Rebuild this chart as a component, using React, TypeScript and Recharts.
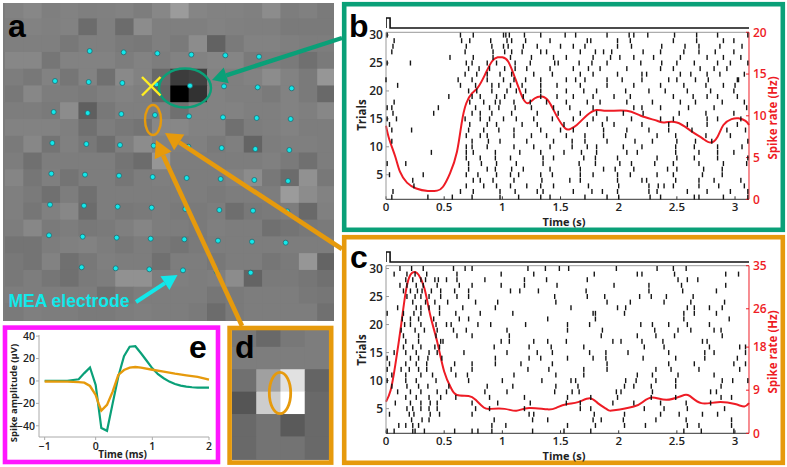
import { ComposedChart, LineChart, ScatterChart, Scatter, Line, XAxis, YAxis, ReferenceLine } from 'recharts';

const tickFont = "'Open Sans', sans-serif";
const green = '#0aa078';
const orange = '#e69a0c';
const magenta = '#ff16ff';
const red = '#ee1c25';

// panel a: gray level of each map cell, row by row
const mapGrays: number[][] = [
  [130, 135, 127, 130, 127, 128, 130, 125, 135, 155, 133, 130, 130, 128, 140, 125, 128, 122],
  [127, 130, 128, 130, 108, 127, 108, 140, 127, 127, 127, 130, 128, 127, 127, 122, 122, 122],
  [127, 127, 127, 120, 127, 127, 122, 120, 127, 122, 140, 98, 122, 130, 130, 127, 125, 125],
  [135, 135, 118, 130, 130, 130, 125, 130, 125, 130, 130, 133, 133, 122, 125, 122, 112, 122],
  [125, 120, 130, 118, 130, 112, 137, 130, 105, 60, 65, 130, 127, 130, 140, 130, 122, 150],
  [120, 135, 125, 125, 122, 127, 130, 127, 100, 0, 50, 130, 127, 127, 122, 130, 122, 105],
  [125, 125, 122, 140, 95, 120, 127, 127, 127, 112, 130, 130, 130, 127, 127, 130, 127, 135],
  [130, 130, 130, 127, 112, 125, 120, 116, 135, 135, 130, 130, 112, 125, 127, 130, 125, 125],
  [122, 135, 116, 128, 120, 110, 127, 140, 130, 127, 128, 122, 127, 100, 125, 127, 127, 125],
  [125, 112, 125, 125, 125, 125, 116, 108, 150, 125, 125, 125, 125, 125, 128, 122, 112, 125],
  [133, 118, 127, 116, 125, 125, 118, 125, 127, 125, 125, 125, 130, 140, 120, 108, 145, 120],
  [127, 122, 112, 125, 112, 125, 125, 125, 125, 125, 125, 122, 125, 125, 125, 155, 140, 130],
  [127, 118, 128, 135, 108, 125, 120, 122, 125, 122, 122, 125, 110, 120, 122, 125, 105, 128],
  [125, 135, 122, 125, 120, 122, 127, 133, 125, 125, 122, 127, 125, 125, 112, 116, 120, 122],
  [116, 116, 125, 128, 130, 125, 120, 125, 120, 116, 122, 125, 125, 125, 125, 125, 125, 125],
  [120, 116, 130, 112, 120, 127, 125, 125, 112, 125, 125, 120, 125, 125, 118, 122, 150, 100],
  [120, 125, 118, 112, 122, 125, 145, 145, 125, 127, 125, 127, 140, 100, 122, 122, 118, 112],
  [125, 125, 125, 125, 125, 112, 120, 125, 125, 125, 125, 118, 122, 125, 125, 125, 120, 118],
  [122, 127, 125, 125, 122, 122, 125, 127, 125, 125, 122, 108, 122, 125, 125, 125, 125, 112],
];

const electrodeX = [
  269, 371, 472, 574, 676, 777,
  165, 266, 367, 469, 570, 672, 773, 875,
  161, 263, 364, 465, 567, 669, 770, 872,
  157, 259, 360, 461, 565, 665, 766, 868,
  154, 255, 357, 458, 560, 662, 763, 864,
  150, 252, 353, 455, 556, 658, 759, 862,
  147, 248, 350, 452, 553, 654, 756, 857,
  245, 347, 448, 549, 650, 752,
];
const electrodeY = [
  153, 157, 160, 164, 166, 170,
  243, 246, 249, 253, 257, 259, 262, 265,
  336, 339, 342, 345, 349, 352, 354, 357,
  429, 432, 435, 437, 440, 444, 447, 450,
  521, 524, 527, 531, 534, 537, 540, 543,
  614, 617, 620, 623, 627, 630, 632, 634,
  706, 710, 713, 716, 718, 722, 725, 728,
  802, 805, 808, 811, 815, 818,
];

// panel d: gray level of each cell
const zoomGrays: number[][] = [
  [120, 105, 120, 125],
  [125, 125, 125, 125],
  [112, 160, 225, 100],
  [85, 205, 255, 105],
  [105, 115, 90, 105],
  [105, 115, 115, 105],
];

// panel b: spike times (s), index 0 is trial 1
const spikesB: number[][] = [
  [.05, .36, .57, .74, .98, 1.14, 1.33, 1.41, 1.71, 1.9, 2, 2.27, 2.36, 2.65, 2.69, 2.9, 3.11],
  [.06, .64, .75, .98, 1.11, 1.3, 1.35, 1.61, 1.77, 1.86, 1.99, 2.26, 2.33, 2.59, 2.76, 2.96, 3.11],
  [.24, .69, .84, .95, 1.07, 1.21, 1.33, 1.44, 1.74, 2, 2.26, 2.34, 2.39, 2.47, 2.69, 2.86, 3.08],
  [.23, .75, .81, .92, 1.1, 1.34, 1.58, 1.67, 1.99, 2.2, 2.24, 2.49, 2.69, 2.82, 3.05],
  [.03, .32, .69, .79, .95, 1.07, 1.14, 1.33, 1.43, 1.67, 1.78, 1.99, 2.1, 2.33, 2.47, 2.72, 2.89],
  [.71, .87, .94, 1.08, 1.18, 1.41, 1.67, 1.87, 1.97, 2.13, 2.42, 2.5, 2.73, 2.89],
  [.01, .17, .71, .82, .95, 1.12, 1.35, 1.66, 1.8, 2.01, 2.11, 2.31, 2.47, 2.69, 2.9, 3.1],
  [.69, .81, .94, 1.07, 1.35, 1.44, 1.7, 1.8, 1.99, 2.33, 2.5, 2.65, 2.85, 3.11],
  [.39, .69, .75, .94, 1.15, 1.33, 1.53, 1.68, 1.81, 2.07, 2.16, 2.49, 2.69, 2.85, 2.99],
  [.69, .74, .87, 1.1, 1.27, 1.41, 1.6, 1.73, 1.81, 2.04, 2.2, 2.49, 2.65, 2.85, 3.06],
  [.05, .74, .88, .98, 1.21, 1.44, 1.6, 1.71, 1.9, 2.14, 2.29, 2.5, 2.66, 2.8, 3.11],
  [.69, .81, .87, 1.1, 1.25, 1.38, 1.55, 1.71, 1.87, 2.06, 2.33, 2.49, 2.75, 2.96],
  [.05, .22, .71, .84, .97, 1.1, 1.33, 1.5, 1.61, 1.87, 2.07, 2.26, 2.43, 2.63, 2.93, 3.09],
  [.03, .72, .87, .95, 1.17, 1.3, 1.53, 1.73, 1.86, 1.96, 2.2, 2.43, 2.59, 2.76, 3.02],
  [.01, .09, .68, .81, .89, 1.01, 1.12, 1.27, 1.43, 1.61, 1.78, 1.9, 2.11, 2.36, 2.47, 2.76, 2.85, 3.05],
  [.06, .41, .74, .81, .91, 1.08, 1.3, 1.48, 1.67, 1.81, 2.04, 2.21, 2.52, 2.75, 2.99],
  [.01, .05, .45, .77, .89, .97, 1.11, 1.25, 1.44, 1.58, 1.78, 2.13, 2.2, 2.36, 2.6, 2.82, 3.1],
  [.07, .72, .84, .94, .98, 1.1, 1.24, 1.38, 1.55, 1.73, 1.84, 2.07, 2.29, 2.53, 2.66, 2.89, 3.08],
  [.54, .74, .81, .95, 1.02, 1.18, 1.33, 1.47, 1.61, 1.78, 1.96, 2.1, 2.47, 2.64, 2.76, 2.85, 3.02],
  [.71, .78, .91, 1.04, 1.12, 1.2, 1.33, 1.55, 1.7, 1.81, 2.06, 2.26, 2.4, 2.59, 2.79, 2.99],
  [.1, .64, .77, .91, .97, 1.07, 1.17, 1.33, 1.47, 1.67, 1.9, 2.13, 2.36, 2.56, 2.75, 2.9, 3],
  [0, .62, .74, .87, 1.01, 1.1, 1.2, 1.33, 1.55, 1.63, 1.71, 1.9, 2.03, 2.2, 2.43, 2.5, 2.66, 2.77, 3.02, 3.03],
  [.68, .78, .87, .98, 1.08, 1.27, 1.43, 1.67, 1.78, 1.99, 2.2, 2.24, 2.53, 2.62, 2.76, 2.87, 3.08],
  [.71, .8, .89, 1.02, 1.11, 1.21, 1.41, 1.61, 1.74, 1.84, 2.07, 2.36, 2.47, 2.7, 2.82, 2.93],
  [.01, .21, .69, .74, .87, .95, 1.11, 1.24, 1.45, 1.48, 1.66, 1.77, 1.9, 2.19, 2.37, 2.5, 2.65, 2.85, 2.96, 3.11],
  [.55, .75, .92, 1.07, 1.25, 1.44, 1.55, 1.78, 1.93, 2.01, 2.13, 2.3, 2.53, 2.76, 2.9, 3.05],
  [.05, .68, .92, 1.02, 1.08, 1.17, 1.33, 1.38, 1.67, 1.8, 1.87, 1.94, 2.21, 2.36, 2.56, 2.69, 2.83, 2.99],
  [.06, .69, .91, 1.01, 1.05, 1.18, 1.3, 1.5, 1.61, 1.71, 1.99, 2.11, 2.37, 2.57, 2.69, 2.87, 3.06],
  [.07, .65, .72, .9, 1.04, 1.08, 1.2, 1.41, 1.73, 1.76, 1.99, 2.1, 2.47, 2.67, 2.9, 2.99],
  [.01, .64, .75, 1.01, 1.03, 1.06, 1.19, 1.33, 1.54, 1.63, 1.9, 2.09, 2.13, 2.25, 2.48, 2.67, 2.85, 3.11],
];

const rateTimeB = [0, .03, .08, .12, .18, .26, .36, .44, .49, .55, .61, .65, .69, .74, .79, .85, .91, .96, 1, 1.05, 1.11, 1.17, 1.22, 1.28, 1.34, 1.4, 1.47, 1.54, 1.58, 1.64, 1.73, 1.81, 1.9, 2.07, 2.19, 2.33, 2.39, 2.5, 2.62, 2.72, 2.79, 2.85, 2.9, 2.97, 3.03, 3.09, 3.12];
const rateB = [8.8, 7.1, 5.1, 3.3, 2, 1.3, 1, 1.04, 1.5, 3.1, 5.7, 9.1, 11.5, 12.7, 13.4, 14.9, 16.5, 17, 17, 16.5, 14.5, 12.3, 11.5, 12.1, 12.3, 11.7, 9.9, 8.5, 8.4, 8.9, 10.1, 10.7, 10.6, 10.6, 10, 9.4, 9.2, 9.2, 8.2, 7.3, 6.8, 7.5, 8.9, 9.6, 9.7, 9.4, 8.9];

// panel c: spike times (s), index 0 is trial 1
const spikesC: number[][] = [
  [.01, .07, .23, .25, .33, .59, .74, .79, .91, 1.26, 1.53, 1.76, 2.56, 2.71, 2.99],
  [.11, .17, .23, .28, .91, 1.03, 1.56, 1.8, 2.05, 2.23, 2.59, 2.69, 2.97],
  [.22, .31, .37, .93, 1.26, 1.39, 1.78, 1.85, 2.04, 2.32, 2.58, 2.97],
  [.03, .2, .24, .38, .46, .74, 1.23, 1.27, 1.79, 2.05, 2.36, 2.52, 2.72, 2.85],
  [.18, .23, .3, .37, .44, .77, .89, 1.19, 1.67, 1.76, 2.22, 2.39, 2.59, 2.91],
  [.08, .21, .3, .38, .44, .74, .96, 1.24, 1.55, 1.67, 1.95, 2.13, 2.36, 2.58, 2.79],
  [.17, .26, .37, .47, .6, .89, 1.19, 1.56, 1.76, 1.99, 2.28, 2.49, 2.88, 2.97],
  [.1, .21, .3, .44, .52, .85, 1.04, 1.45, 1.6, 1.66, 1.98, 2.02, 2.29, 2.79, 2.84],
  [.05, .18, .28, .36, .54, .87, 1.09, 1.46, 1.65, 2.05, 2.13, 2.28, 2.49, 2.88],
  [.01, .17, .26, .43, .71, 1, 1.34, 1.59, 1.63, 2.06, 2.15, 2.32, 2.49, 2.89, 2.98, 3.11],
  [.05, .17, .3, .4, .6, .7, 1.1, 1.46, 1.7, 2.16, 2.29, 2.51, 2.82],
  [.01, .13, .2, .28, .35, .56, .74, 1.22, 1.4, 1.7, 1.9, 2.32, 2.45, 2.69, 3.04],
  [.03, .17, .26, .35, .59, .74, .94, 1.16, 1.43, 1.9, 2.43, 2.65, 2.99, 3.09],
  [.01, .21, .28, .36, .48, .94, 1.23, 1.33, 1.56, 1.78, 1.89, 2.21, 2.49, 2.74, 3.02],
  [.07, .17, .26, .37, .44, .67, 1.04, 1.3, 1.43, 1.75, 1.89, 2.08, 2.43, 2.74, 2.82, 3.09],
  [.15, .23, .3, .42, .46, .93, 1.23, 1.42, 1.7, 2.22, 2.39, 2.78, 3.04, 3.09],
  [.17, .28, .47, .49, .99, 1.06, 1.27, 1.39, 1.55, 1.95, 2.02, 2.2, 2.38, 2.72, 2.76],
  [.15, .28, .43, .61, .74, 1.06, 1.85, 2.16, 2.32, 2.48, 2.89],
  [.13, .25, .33, .44, .58, .69, 1.04, 1.56, 1.86, 2.31, 2.51, 2.62, 2.82, 2.88],
  [.16, .21, .3, .43, .52, .56, .79, .9, 1.2, 1.56, 1.75, 2.19, 2.29, 2.43, 2.59, 2.78],
  [.14, .21, .28, .41, .63, .71, 1.39, 1.8, 2.56, 2.95],
  [.01, .15, .24, .3, .46, .6, .81, 1.09, 1.78, 1.8, 2.05, 2.56, 2.65, 2.84],
  [.1, .26, .3, .37, .46, .66, .94, 1.59, 1.99, 2.06, 2.59, 2.65, 2.78, 2.89],
  [.23, .34, .42, .53, .77, .96, 1.46, 1.9, 2.1, 2.39, 2.62, 2.91],
  [.18, .25, .3, .37, .47, .61, .71, 1.45, 1.73, 1.88, 2.18, 2.28, 2.41, 2.64],
  [.15, .21, .27, .31, .39, .47, .59, .71, 1.07, 1.15, 1.31, 1.72, 2.26, 2.55, 2.84],
  [.12, .18, .26, .32, .44, .63, .74, .99, 1.19, 1.47, 1.96, 2.26, 2.54, 2.92],
  [.17, .23, .3, .34, .42, .45, .52, .61, .85, 1.19, 1.38, 1.73, 2.51, 2.59, 2.68],
  [.07, .18, .25, .35, .61, .99, 1.27, 1.79, 2.16, 2.2, 2.48, 2.92, 3.03],
  [.12, .22, .32, .58, .68, .74, 1.22, 1.37, 1.49, 1.57, 1.98, 2.33, 2.47, 2.58],
];

const rateTimeC = [0, .04, .08, .13, .17, .21, .25, .28, .33, .38, .44, .5, .56, .61, .71, .77, .84, .9, 1.02, 1.12, 1.23, 1.39, 1.47, 1.56, 1.65, 1.75, 1.82, 1.9, 1.96, 2.13, 2.21, 2.29, 2.41, 2.54, 2.61, 2.71, 2.85, 3, 3.08, 3.12];
const rateC = [6.6, 9, 14.3, 22.6, 29.6, 33.1, 33.7, 33.1, 30.3, 24.7, 19.1, 12.9, 9.4, 8, 7.8, 7, 5.4, 5.1, 5.1, 4.7, 5.3, 5, 5.4, 6.1, 6.5, 7.3, 6.3, 5, 4.8, 5.6, 6.6, 7.5, 7, 7.8, 7.8, 6.3, 6.5, 6.1, 5.6, 6.3];

// panel e: spike waveforms
const waveTimeGreen = [-.9, -.5, -.3, -.2, -.1, 0, .1, .2, .3, .4, .5, .6, .7, .8, .9, 1, 1.1, 1.2, 1.3, 1.4, 1.5, 1.6, 1.7, 1.8, 2];
const waveGreen = [0, .2, 1.5, 7, 12, -3.5, -42, -44.5, -20, 4, 22, 30.5, 31, 24.7, 18, 11.3, 6, 2.4, -.6, -2.7, -4.2, -5, -5.6, -6, -6];
const waveTimeOrange = [-.9, -.5, -.3, -.2, -.1, 0, .05, .1, .2, .3, .4, .5, .6, .7, .8, 1, 1.2, 1.4, 1.6, 1.8, 2];
const waveOrange = [-.5, -.6, -1, -1.5, -4.5, -12.5, -20, -26.5, -21.4, -9.5, 5.4, 9.8, 11.9, 12.5, 11.9, 10, 8.3, 6.5, 5, 3.6, 1.2];

const stimTime = [0, 0, .035, .035, 3.12];
const stimLevel = [0, 1, 1, 0, 0];

const trialTicks = [5, 10, 15, 20, 25, 30];
const timeTicks = [0, 0.5, 1, 1.5, 2, 2.5, 3];

const CellShape = (w: number, h: number) => (p: any) => (
  <rect x={p.cx - w / 2} y={p.cy - h / 2} width={w + 0.5} height={h + 0.5} fill={`rgb(${p.payload.g},${p.payload.g},${p.payload.g})`} />
);
const ElectrodeDot = (p: any) => <circle cx={p.cx} cy={p.cy} r={2.5} fill="#12e8ea" stroke="#27686e" strokeWidth={0.8} />;
const SpikeTick = (p: any) => <rect x={p.cx - 0.7} y={p.cy - 2.5} width={1.4} height={5} fill="#151515" />;

const MapPanel = () => {
  const cells = mapGrays.flatMap((row, r) => row.map((g, c) => ({ x: 15 + 55.1 * (c + 0.5), y: 5 + 50.3 * (r + 0.5), g })));
  const dots = electrodeX.map((x, i) => ({ x, y: electrodeY[i] }));
  return (
    <div style={{ position: 'absolute', left: 3, top: 3, background: '#7c7c7c' }}>
      <ScatterChart width={331} height={318} margin={{ top: 0, right: 0, bottom: 0, left: 0 }}>
        <XAxis type="number" dataKey="x" domain={[9, 1002]} hide />
        <YAxis type="number" dataKey="y" domain={[9, 963]} reversed hide />
        <Scatter data={cells} shape={CellShape(18.4, 16.8)} isAnimationActive={false} />
        <Scatter data={dots} shape={ElectrodeDot} isAnimationActive={false} />
      </ScatterChart>
    </div>
  );
};

const ZoomPanel = () => {
  const cells = zoomGrays.flatMap((row, r) => row.map((g, c) => ({ x: c + 0.5, y: r + 0.25, g })));
  return (
    <div style={{ position: 'absolute', left: 232, top: 330, background: '#777' }}>
      <ScatterChart width={97} height={130} margin={{ top: 0, right: 0, bottom: 0, left: 0 }}>
        <XAxis type="number" dataKey="x" domain={[0, 4]} hide />
        <YAxis type="number" dataKey="y" domain={[0, 5.8]} reversed hide />
        <Scatter data={cells} shape={CellShape(24.3, 22.4)} isAnimationActive={false} />
      </ScatterChart>
    </div>
  );
};

type RasterProps = {
  left: number;
  top: number;
  spikes: number[][];
  rateTime: number[];
  rate: number[];
  rateMax: number;
  rateTicks: number[];
  plotTop: number;
  plotHeight: number;
};

const RasterPanel = ({ left, top, spikes, rateTime, rate, rateMax, rateTicks, plotTop, plotHeight }: RasterProps) => {
  const points = spikes.flatMap((times, i) => times.map((t) => ({ t, trial: i + 1 })));
  const curve = rateTime.map((t, i) => ({ t, rate: rate[i] }));
  const stim = stimTime.map((t, i) => ({ t, level: stimLevel[i] }));
  return (
    <>
      <div style={{ position: 'absolute', left: left + 40, top: plotTop - 16 }}>
        <LineChart width={363} height={14} data={stim} margin={{ top: 2, right: 0, bottom: 2, left: 0 }}>
          <XAxis type="number" dataKey="t" domain={[0, 3.12]} hide />
          <YAxis type="number" domain={[0, 1]} hide />
          <Line dataKey="level" type="linear" stroke="#111" strokeWidth={1.6} dot={false} isAnimationActive={false} />
        </LineChart>
      </div>
      <div style={{ position: 'absolute', left, top }}>
        <ComposedChart width={434} height={plotTop - top + plotHeight + 27} margin={{ top: plotTop - top, right: 0, bottom: 0, left: 0 }}>
          <XAxis
            type="number"
            dataKey="t"
            domain={[0, 3.12]}
            ticks={timeTicks}
            height={27}
            stroke="#333"
            tickSize={-3}
            tickMargin={7}
            interval={0}
            tick={{ fill: '#222', fontSize: 11.5, fontWeight: 600, fontFamily: tickFont }}
          />
          <YAxis
            yAxisId="trials"
            type="number"
            dataKey="trial"
            domain={[0.6, 30.5]}
            ticks={trialTicks}
            width={40}
            stroke="#999"
            tickSize={-3}
            tickMargin={6}
            interval={0}
            tick={{ fill: '#222', fontSize: 12, fontWeight: 600, fontFamily: tickFont }}
          />
          <YAxis
            yAxisId="rate"
            orientation="right"
            type="number"
            domain={[0, rateMax]}
            ticks={rateTicks}
            width={31}
            stroke={red}
            tickSize={-3}
            tickMargin={7}
            interval={0}
            tick={{ fill: red, fontSize: 12, fontWeight: 600, fontFamily: tickFont }}
          />
          <ReferenceLine yAxisId="rate" y={rateMax} stroke="#999" />
          <Scatter yAxisId="trials" data={points} shape={SpikeTick} isAnimationActive={false} />
          <Line yAxisId="rate" data={curve} dataKey="rate" type="natural" stroke={red} strokeWidth={2} dot={false} isAnimationActive={false} />
        </ComposedChart>
      </div>
    </>
  );
};

const WavePanel = () => {
  const greenData = waveTimeGreen.map((t, i) => ({ t, v: waveGreen[i] }));
  const orangeData = waveTimeOrange.map((t, i) => ({ t, v: waveOrange[i] }));
  return (
    <div style={{ position: 'absolute', left: 7, top: 330 }}>
      <LineChart width={210} height={130} margin={{ top: 5, right: 8, bottom: 0, left: 0 }}>
        <XAxis
          type="number"
          dataKey="t"
          domain={[-1, 2]}
          ticks={[-0.9, 0, 1, 2]}
          tickFormatter={(v: number) => (v < 0 ? '\u22121' : String(v))}
          height={23}
          stroke="#aaa"
          tickSize={3}
          tickMargin={3}
          interval={0}
          tick={{ fill: '#222', fontSize: 10.5, fontWeight: 600, fontFamily: tickFont }}
        />
        <YAxis
          type="number"
          domain={[-50, 41]}
          ticks={[-40, -20, 0, 20, 40]}
          tickFormatter={(v: number) => String(v).replace('-', '\u2212')}
          width={32}
          stroke="#aaa"
          tickSize={3}
          tickMargin={1}
          interval={0}
          tick={{ fill: '#222', fontSize: 10.5, fontWeight: 600, fontFamily: tickFont }}
        />
        <Line data={greenData} dataKey="v" type="linear" stroke={green} strokeWidth={2.2} dot={false} isAnimationActive={false} />
        <Line data={orangeData} dataKey="v" type="linear" stroke={orange} strokeWidth={2.4} dot={false} isAnimationActive={false} />
      </LineChart>
    </div>
  );
};

const Arrow = ({ x1, y1, x2, y2, color, w, head }: { x1: number; y1: number; x2: number; y2: number; color: string; w: number; head: number }) => {
  const len = Math.hypot(x2 - x1, y2 - y1);
  const ux = (x2 - x1) / len;
  const uy = (y2 - y1) / len;
  const bx = x2 - ux * head;
  const by = y2 - uy * head;
  const hw = head * 0.55;
  return (
    <g>
      <line x1={x1} y1={y1} x2={bx} y2={by} stroke={color} strokeWidth={w} />
      <polygon points={`${x2},${y2} ${bx - uy * hw},${by + ux * hw} ${bx + uy * hw},${by - ux * hw}`} fill={color} />
    </g>
  );
};

const letterStyle = { fontFamily: "'Liberation Sans', sans-serif", fontWeight: 700, fontSize: 32, fill: '#000' };

const AxisTitle = ({ x, y, text, size = 11.5, color = '#222', vertical = false }: { x: number; y: number; text: string; size?: number; color?: string; vertical?: boolean }) => (
  <text
    x={x}
    y={y}
    textAnchor="middle"
    dominantBaseline="central"
    transform={vertical ? `rotate(-90 ${x} ${y})` : undefined}
    fontFamily={tickFont}
    fontWeight={700}
    fontSize={size}
    fill={color}
  >
    {text}
  </text>
);

const Overlay = () => (
  <svg width={787} height={467} style={{ position: 'absolute', left: 0, top: 0, pointerEvents: 'none' }}>
    <rect x={344.2} y={4.2} width={438.6} height={225.6} fill="none" stroke={green} strokeWidth={4.6} />
    <rect x={344.2} y={237.2} width={438.6} height={225.6} fill="none" stroke={orange} strokeWidth={4.6} />
    <rect x={5} y={327.6} width={213} height={134.4} fill="none" stroke={magenta} strokeWidth={4.6} />
    <rect x={229.6} y={328} width={101.6} height={134.6} fill="none" stroke={orange} strokeWidth={4.6} />

    <ellipse cx={185} cy={88} rx={26} ry={19.5} fill="none" stroke={green} strokeWidth={2.4} />
    <ellipse cx={153} cy={120} rx={8} ry={15} fill="none" stroke={orange} strokeWidth={2.4} />
    <line x1={142} y1={77} x2={160.5} y2={95.5} stroke="#ffee22" strokeWidth={2.4} />
    <line x1={160.5} y1={77} x2={142} y2={95.5} stroke="#ffee22" strokeWidth={2.4} />
    <ellipse cx={280} cy={393} rx={10.7} ry={20.7} fill="none" stroke={orange} strokeWidth={2.8} />

    <Arrow x1={342} y1={38} x2={212} y2={80} color={green} w={4.4} head={15} />
    <Arrow x1={342} y1={249} x2={165} y2={133} color={orange} w={4.6} head={17} />
    <Arrow x1={242} y1={326} x2={156} y2={140} color={orange} w={4.6} head={17} />
    <Arrow x1={136} y1={302} x2={177.5} y2={275} color="#12e8ea" w={4} head={15} />

    <AxisTitle x={361.5} y={115} text="Trials" vertical />
    <AxisTitle x={564} y={221} text="Time (s)" size={11} />
    <AxisTitle x={772} y={118} text="Spike rate (Hz)" color={red} vertical />
    <AxisTitle x={361.5} y={350} text="Trials" vertical />
    <AxisTitle x={564} y={455} text="Time (s)" size={11} />
    <AxisTitle x={772} y={352} text="Spike rate (Hz)" color={red} vertical />
    <AxisTitle x={122.5} y={454} text="Time (ms)" size={10} />
    <AxisTitle x={13} y={393} text={'Spike amplitude (\u00b5V)'} size={9.5} vertical />

    <text x={8.5} y={306.5} fontFamily="'Liberation Sans', sans-serif" fontWeight={700} fontSize={17.5} fill="#12e8ea">MEA electrode</text>
    <text x={8} y={36.5} style={letterStyle}>a</text>
    <text x={349} y={36.5} style={letterStyle}>b</text>
    <text x={350} y={268} style={letterStyle}>c</text>
    <text x={235} y={358} style={letterStyle}>d</text>
    <text x={189} y={358} style={letterStyle}>e</text>
  </svg>
);

export default function App() {
  return (
    <div style={{ position: 'absolute', left: 0, top: 0, width: 787, height: 467, background: '#fff', overflow: 'hidden' }}>
      <MapPanel />
      <ZoomPanel />
      <RasterPanel left={346} top={8} spikes={spikesB} rateTime={rateTimeB} rate={rateB} rateMax={20} rateTicks={[0, 5, 10, 15, 20]} plotTop={32.3} plotHeight={167} />
      <RasterPanel left={345.5} top={241} spikes={spikesC} rateTime={rateTimeC} rate={rateC} rateMax={35} rateTicks={[0, 9, 18, 26, 35]} plotTop={265.7} plotHeight={167.6} />
      <WavePanel />
      <Overlay />
    </div>
  );
}
